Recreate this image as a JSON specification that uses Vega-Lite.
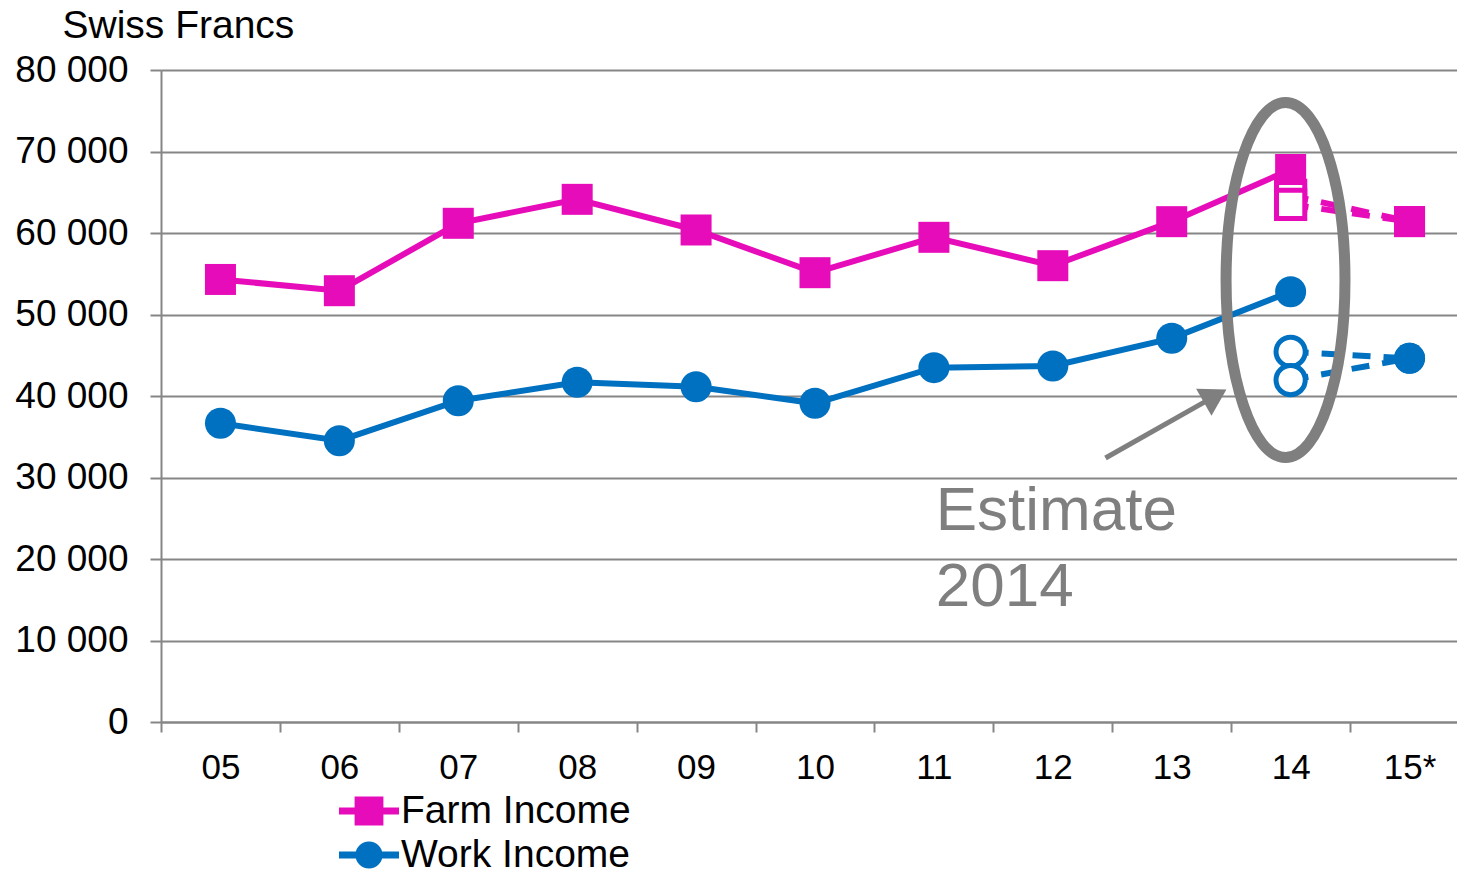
{
  "$schema": "https://vega.github.io/schema/vega-lite/v6.json",
  "width": 1308,
  "height": 652,
  "autosize": {"type": "none"},
  "padding": {"left": 161, "top": 70, "right": 0, "bottom": 152},
  "background": "white",
  "config": {
    "font": "Liberation Sans",
    "view": {"stroke": null}
  },
  "datasets": {
    "pts": [
      {"year": "05", "i": 0, "series": "Farm Income", "line": "actual", "value": 54300},
      {"year": "06", "i": 1, "series": "Farm Income", "line": "actual", "value": 52920},
      {"year": "07", "i": 2, "series": "Farm Income", "line": "actual", "value": 61190},
      {"year": "08", "i": 3, "series": "Farm Income", "line": "actual", "value": 64130},
      {"year": "09", "i": 4, "series": "Farm Income", "line": "actual", "value": 60370},
      {"year": "10", "i": 5, "series": "Farm Income", "line": "actual", "value": 55130},
      {"year": "11", "i": 6, "series": "Farm Income", "line": "actual", "value": 59470},
      {"year": "12", "i": 7, "series": "Farm Income", "line": "actual", "value": 55990},
      {"year": "13", "i": 8, "series": "Farm Income", "line": "actual", "value": 61390},
      {"year": "14", "i": 9, "series": "Farm Income", "line": "actual", "value": 67790},
      {"year": "14", "i": 9, "series": "Farm Income", "line": "estA", "value": 64600},
      {"year": "15*", "i": 10, "series": "Farm Income", "line": "estA", "value": 61400},
      {"year": "14", "i": 9, "series": "Farm Income", "line": "estB", "value": 63500},
      {"year": "15*", "i": 10, "series": "Farm Income", "line": "estB", "value": 61400},
      {"year": "05", "i": 0, "series": "Work Income", "line": "actual", "value": 36650},
      {"year": "06", "i": 1, "series": "Work Income", "line": "actual", "value": 34520},
      {"year": "07", "i": 2, "series": "Work Income", "line": "actual", "value": 39420},
      {"year": "08", "i": 3, "series": "Work Income", "line": "actual", "value": 41680},
      {"year": "09", "i": 4, "series": "Work Income", "line": "actual", "value": 41140},
      {"year": "10", "i": 5, "series": "Work Income", "line": "actual", "value": 39100},
      {"year": "11", "i": 6, "series": "Work Income", "line": "actual", "value": 43480},
      {"year": "12", "i": 7, "series": "Work Income", "line": "actual", "value": 43680},
      {"year": "13", "i": 8, "series": "Work Income", "line": "actual", "value": 47080},
      {"year": "14", "i": 9, "series": "Work Income", "line": "actual", "value": 52800},
      {"year": "14", "i": 9, "series": "Work Income", "line": "estA", "value": 45430},
      {"year": "15*", "i": 10, "series": "Work Income", "line": "estA", "value": 44620},
      {"year": "14", "i": 9, "series": "Work Income", "line": "estB", "value": 41960},
      {"year": "15*", "i": 10, "series": "Work Income", "line": "estB", "value": 44620}
    ],
    "ellipse": [{"i": 8.957, "value": 54230}],
    "arrow": [
      {"i": 7.443, "value": 32390},
      {"i": 8.33, "value": 39700}
    ],
    "arrowhead": [{"i": 8.46, "value": 40800}],
    "label": [
      {"i": 6.015, "value": 23560, "text": "Estimate"},
      {"i": 6.015, "value": 14230, "text": "2014"}
    ]
  },
  "layer": [
    {
      "data": {"name": "pts"},
      "transform": [{"filter": "datum.line === 'actual'"}],
      "mark": {"type": "line", "strokeWidth": 6},
      "encoding": {
        "x": {
          "field": "i", "type": "quantitative",
          "scale": {"domain": [-0.5, 10.5], "nice": false, "zero": false},
          "axis": {
            "title": null,
            "grid": false,
            "values": [-0.5, 0, 0.5, 1, 1.5, 2, 2.5, 3, 3.5, 4, 4.5, 5, 5.5, 6, 6.5, 7, 7.5, 8, 8.5, 9, 9.5, 10, 10.5],
            "labelExpr": "datum.value % 1 === 0 ? ['05','06','07','08','09','10','11','12','13','14','15*'][datum.value] : ''",
            "labelOverlap": false,
            "labelFlush": false,
            "labelBound": false,
            "labelFontSize": 35,
            "labelColor": "black",
            "labelPadding": 18,
            "domainColor": "#868686",
            "domainWidth": 2,
            "tickColor": "#868686",
            "tickWidth": 2,
            "tickSize": 10,
            "tickOpacity": {"condition": {"test": "datum.value % 1 !== 0", "value": 1}, "value": 0}
          }
        },
        "y": {
          "field": "value", "type": "quantitative",
          "scale": {"domain": [0, 80000], "nice": false},
          "axis": {
            "title": "Swiss Francs",
            "titleAngle": 0,
            "titleX": -99,
            "titleY": -33,
            "titleAlign": "left",
            "titleBaseline": "alphabetic",
            "titleFontSize": 39,
            "titleFontWeight": "normal",
            "titleColor": "black",
            "values": [0, 10000, 20000, 30000, 40000, 50000, 60000, 70000, 80000],
            "labelExpr": "replace(format(datum.value, ','), ',', ' ')",
            "labelFontSize": 37,
            "labelColor": "black",
            "labelPadding": 22,
            "grid": true,
            "gridColor": "#868686",
            "gridWidth": 2,
            "domainColor": "#868686",
            "domainWidth": 2,
            "tickColor": "#868686",
            "tickWidth": 2,
            "tickSize": 11
          }
        },
        "color": {
          "field": "series", "type": "nominal",
          "scale": {"domain": ["Farm Income", "Work Income"], "range": ["#E70CB9", "#0070C0"]}
        }
      }
    },
    {
      "data": {"name": "pts"},
      "transform": [{"filter": "datum.line !== 'actual'"}],
      "mark": {"type": "line", "strokeWidth": 6, "strokeDash": [18, 13]},
      "encoding": {
        "x": {"field": "i", "type": "quantitative"},
        "y": {"field": "value", "type": "quantitative"},
        "color": {"field": "series", "type": "nominal"},
        "detail": {"field": "line", "type": "nominal"}
      }
    },
    {
      "data": {"name": "pts"},
      "transform": [{"filter": "datum.series === 'Farm Income' && datum.line !== 'actual' && datum.i === 9"}],
      "mark": {"type": "point", "shape": "square", "size": 800, "filled": false, "fill": "white", "fillOpacity": 1, "stroke": "#E70CB9", "strokeWidth": 5, "opacity": 1},
      "encoding": {
        "x": {"field": "i", "type": "quantitative"},
        "y": {"field": "value", "type": "quantitative"}
      }
    },
    {
      "data": {"name": "pts"},
      "transform": [{"filter": "datum.series === 'Work Income' && datum.line !== 'actual' && datum.i === 9"}],
      "mark": {"type": "point", "shape": "circle", "size": 855, "filled": false, "fill": "white", "fillOpacity": 1, "stroke": "#0070C0", "strokeWidth": 5, "opacity": 1},
      "encoding": {
        "x": {"field": "i", "type": "quantitative"},
        "y": {"field": "value", "type": "quantitative"}
      }
    },
    {
      "data": {"name": "pts"},
      "transform": [{"filter": "datum.series === 'Farm Income' && (datum.line === 'actual' || datum.i === 10)"}],
      "mark": {"type": "point", "shape": "square", "size": 961, "filled": true, "fill": "#E70CB9", "opacity": 1},
      "encoding": {
        "x": {"field": "i", "type": "quantitative"},
        "y": {"field": "value", "type": "quantitative"}
      }
    },
    {
      "data": {"name": "pts"},
      "transform": [{"filter": "datum.series === 'Work Income' && (datum.line === 'actual' || datum.i === 10)"}],
      "mark": {"type": "point", "shape": "circle", "size": 962, "filled": true, "fill": "#0070C0", "opacity": 1},
      "encoding": {
        "x": {"field": "i", "type": "quantitative"},
        "y": {"field": "value", "type": "quantitative"}
      }
    },
    {
      "data": {"name": "pts"},
      "transform": [{"filter": "false"}],
      "mark": {"type": "point", "filled": true},
      "encoding": {
        "x": {"field": "i", "type": "quantitative"},
        "y": {"field": "value", "type": "quantitative"},
        "color": {
          "field": "series", "type": "nominal",
          "legend": {
            "orient": "none", "legendX": 188, "legendY": 721, "title": null,
            "direction": "vertical", "labelFontSize": 39, "labelColor": "black",
            "labelLimit": 400, "symbolSize": 1600, "labelOffset": 12, "rowPadding": 4,
            "padding": 0, "symbolStrokeWidth": 0, "symbolOpacity": 1
          }
        },
        "shape": {
          "field": "series", "type": "nominal",
          "scale": {
            "domain": ["Farm Income", "Work Income"],
            "range": [
              "M -1.5 -0.17 H -0.72 V -0.72 H 0.72 V -0.17 H 1.5 V 0.17 H 0.72 V 0.72 H -0.72 V 0.17 H -1.5 Z",
              "M -1.5 -0.17 H 1.5 V 0.17 H -1.5 Z M 0.68 0 A 0.68 0.68 0 1 1 -0.68 0 A 0.68 0.68 0 1 1 0.68 0 Z"
            ]
          },
          "legend": {
            "orient": "none", "legendX": 188, "legendY": 721, "title": null,
            "direction": "vertical", "labelFontSize": 39, "labelColor": "black",
            "labelLimit": 400, "symbolSize": 1600, "labelOffset": 12, "rowPadding": 4,
            "padding": 0, "symbolStrokeWidth": 0, "symbolOpacity": 1
          }
        }
      }
    },
    {
      "data": {"name": "ellipse"},
      "mark": {
        "type": "point",
        "shape": "M 0 -1 A 0.335 1 0 1 1 0 1 A 0.335 1 0 1 1 0 -1 Z",
        "size": 126025,
        "filled": false,
        "stroke": "#7F7F7F",
        "strokeWidth": 11,
        "opacity": 1
      },
      "encoding": {
        "x": {"field": "i", "type": "quantitative"},
        "y": {"field": "value", "type": "quantitative"}
      }
    },
    {
      "data": {"name": "arrow"},
      "mark": {"type": "line", "color": "#7F7F7F", "strokeWidth": 5},
      "encoding": {
        "x": {"field": "i", "type": "quantitative"},
        "y": {"field": "value", "type": "quantitative"}
      }
    },
    {
      "data": {"name": "arrowhead"},
      "mark": {
        "type": "point",
        "shape": "M 0 0 L -0.6 1 L 0.6 1 Z",
        "size": 2704,
        "angle": 60.5,
        "filled": true,
        "fill": "#7F7F7F",
        "opacity": 1
      },
      "encoding": {
        "x": {"field": "i", "type": "quantitative"},
        "y": {"field": "value", "type": "quantitative"}
      }
    },
    {
      "data": {"name": "label"},
      "mark": {"type": "text", "align": "left", "baseline": "alphabetic", "fontSize": 62, "color": "#7F7F7F"},
      "encoding": {
        "x": {"field": "i", "type": "quantitative"},
        "y": {"field": "value", "type": "quantitative"},
        "text": {"field": "text", "type": "nominal"}
      }
    }
  ]
}
